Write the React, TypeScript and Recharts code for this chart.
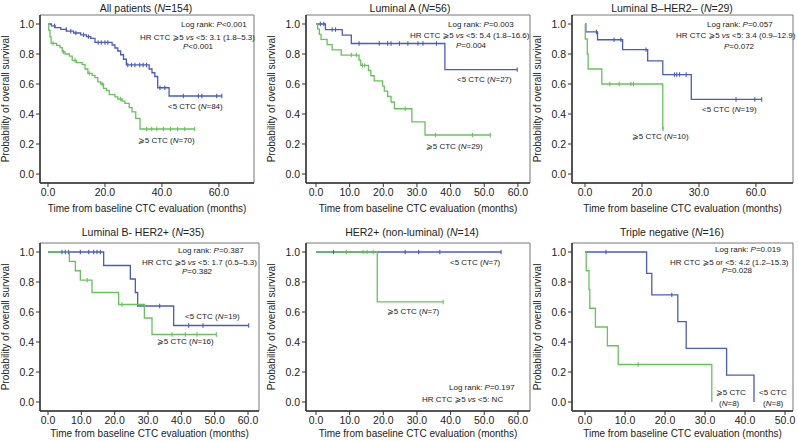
import React from 'react'
import { LineChart, Line, XAxis, YAxis, ReferenceArea } from 'recharts'

const W = 798
const H = 441
const BLUE = '#4a5bc0'
const GREEN = '#66c35a'
const FONT = '"Liberation Sans", Arial, Helvetica, "DejaVu Sans", sans-serif'

// Kaplan-Meier steps as [months, survival]; censor marks as months
const allLowSteps = [[0, 1], [1.2, 0.988], [2.5, 0.976], [4.5, 0.964], [6.5, 0.952], [9, 0.94], [11.5, 0.928], [13.5, 0.916], [15, 0.904], [16.5, 0.877], [22.5, 0.86], [23.5, 0.84], [24.5, 0.82], [25.5, 0.795], [26.5, 0.765], [27.5, 0.727], [35.5, 0.7], [36.5, 0.675], [37.5, 0.65], [38.5, 0.575], [42.5, 0.52]]
const allLowCens = [2.3, 6.4, 8, 9.8, 12.5, 14.2, 17.6, 18.7, 20, 21, 28, 29.3, 30.5, 32.2, 33.4, 34.6, 39.3, 41, 47.5, 52.8, 54, 59.2, 61]
const allHighSteps = [[0, 1], [0.3, 0.957], [0.7, 0.914], [1.1, 0.871], [3, 0.857], [4.2, 0.843], [5, 0.814], [6, 0.8], [7.5, 0.786], [8.5, 0.757], [10, 0.743], [12, 0.729], [13, 0.7], [14, 0.671], [15.5, 0.657], [16.5, 0.643], [17.5, 0.614], [18.5, 0.6], [19.5, 0.571], [20.5, 0.557], [21.5, 0.529], [23.5, 0.514], [24.5, 0.5], [26, 0.486], [27, 0.471], [28.5, 0.443], [29.5, 0.414], [30.8, 0.371], [32.3, 0.3]]
const allHighCens = [1.8, 5.5, 9.5, 14.5, 19, 25.5, 34.6, 36.4, 38.2, 40.5, 43, 45.5, 48, 51.5]

const lumALowSteps = [[0, 1], [2.8, 0.963], [7.8, 0.926], [10.5, 0.87], [38.3, 0.696]]
const lumALowCens = [1.3, 2.3, 4.8, 5.8, 12.8, 18.8, 21.3, 22.3, 24.8, 27.3, 30.3, 31.8, 35.8, 59.8]
const lumAHighSteps = [[0, 1], [0.5, 0.966], [1, 0.931], [1.5, 0.897], [3.3, 0.862], [4.8, 0.828], [7.5, 0.793], [12.8, 0.759], [13.3, 0.724], [15.6, 0.69], [16.3, 0.655], [17.3, 0.621], [19.8, 0.586], [20.3, 0.552], [21.3, 0.517], [22.3, 0.48], [23.3, 0.435], [28.5, 0.348], [32.4, 0.26]]
const lumAHighCens = [10.5, 12, 13.8, 14.5, 26.5, 35.5, 46.5, 51.8]

const lumBnegLowSteps = [[0, 1], [0.3, 0.947], [4.4, 0.895], [13.2, 0.829], [22, 0.754], [27.3, 0.663], [37.3, 0.497]]
const lumBnegLowCens = [4, 10.2, 12.6, 21.4, 31.4, 32.2, 33.2, 35.5, 53, 59.6, 62]
const lumBnegHighSteps = [[0, 1], [0.1, 0.9], [0.8, 0.8], [1.1, 0.7], [5.9, 0.6], [27.3, 0.3]]
const lumBnegHighCens = [8.7, 12, 16.1, 17, 27.4]

const lumBposLowSteps = [[0, 1], [16.7, 0.91], [24.7, 0.82], [26.2, 0.73], [26.9, 0.64], [37.7, 0.51]]
const lumBposLowCens = [4.2, 5.2, 6.2, 9.7, 12.2, 13.7, 14.7, 15.7, 33.5, 42.2, 46.5, 60.2]
const lumBposHighSteps = [[0, 1], [6.4, 0.9375], [8.2, 0.875], [9.7, 0.8125], [13.2, 0.73], [21.2, 0.65], [28.9, 0.56], [31.2, 0.45]]
const lumBposHighCens = [11.8, 22.2, 37.2, 41.2, 44.7, 50.5]

const her2LowSteps = [[0, 1]]
const her2LowCens = [5.2, 26.5, 30.5, 36.8, 55]
const her2HighSteps = [[0, 1], [18.2, 0.667]]
const her2HighCens = [9, 14, 15.2, 17, 37.8]

const tnLowSteps = [[0, 1], [15.4, 0.857], [16.7, 0.714], [23.2, 0.536], [25.3, 0.357], [35.4, 0.179], [42.25, 0]]
const tnLowCens = [5.25, 21.7]
const tnHighSteps = [[0, 1], [0.3, 0.875], [1, 0.75], [1.2, 0.625], [2.6, 0.5], [5.6, 0.375], [8.3, 0.25], [31.7, 0]]
const tnHighCens = [13.3]

const Y_TICKS = [0, 0.2, 0.4, 0.6, 0.8, 1.0]
const Y_DOMAIN: [number, number] = [-0.06, 1.06]
const TICKS_20 = [0, 20, 40, 60]
const TICKS_10 = [0, 10, 20, 30, 40, 50, 60]
const TICKS_TN = [0, 10, 20, 30, 40, 50]
// the Luminal B-HER2- panel is printed with "30.0" where 40 should be
const LUMBNEG_LABELS = ['0.0', '20.0', '30.0', '60.0']

const Y_TITLE = 'Probability of overall survival'
const X_TITLE = 'Time from baseline CTC evaluation (months)'

type Note = { x: number; y: number; text: string }
type Curve = { steps: number[][]; cens: number[]; color: string }
type Panel = {
  title: string
  titleX: number
  row: number
  box: [number, number, number, number] // left, right, top, bottom
  xDomain: [number, number]
  xTicks: number[]
  xLabels?: string[]
  curves: Curve[]
  notes: Note[]
}

const HR = 'HR CTC \u2A7E5 *vs* <5: '

const panels: Panel[] = [
  {
    title: 'All patients (*N*=154)', titleX: 146, row: 0,
    box: [40, 254, 15, 183], xDomain: [-2.8, 72.3], xTicks: TICKS_20,
    curves: [
      { steps: allLowSteps, cens: allLowCens, color: BLUE },
      { steps: allHighSteps, cens: allHighCens, color: GREEN },
    ],
    notes: [
      { x: 181, y: 24, text: 'Log rank: *P*<0.001' },
      { x: 140, y: 37, text: HR + '3.1 (1.8\u20135.3)' },
      { x: 183, y: 46, text: '*P*<0.001' },
      { x: 168, y: 106, text: '<5 CTC (*N*=84)' },
      { x: 138, y: 140, text: '\u2A7E5 CTC (*N*=70)' },
    ],
  },
  {
    title: 'Luminal A (*N*=56)', titleX: 410, row: 0,
    box: [306, 530, 15, 183], xDomain: [-2.97, 63.6], xTicks: TICKS_10,
    curves: [
      { steps: lumALowSteps, cens: lumALowCens, color: BLUE },
      { steps: lumAHighSteps, cens: lumAHighCens, color: GREEN },
    ],
    notes: [
      { x: 448, y: 24, text: 'Log rank: *P*=0.003' },
      { x: 410, y: 35, text: HR + '5.4 (1.8\u201316.6)' },
      { x: 456, y: 45, text: '*P*=0.004' },
      { x: 457, y: 79, text: '<5 CTC (*N*=27)' },
      { x: 426, y: 146, text: '\u2A7E5 CTC (*N*=29)' },
    ],
  },
  {
    title: 'Luminal B\u2013HER2\u2013 (*N*=29)', titleX: 672, row: 0,
    box: [572, 793, 15, 183], xDomain: [-4.56, 73], xTicks: TICKS_20, xLabels: LUMBNEG_LABELS,
    curves: [
      { steps: lumBnegLowSteps, cens: lumBnegLowCens, color: BLUE },
      { steps: lumBnegHighSteps, cens: lumBnegHighCens, color: GREEN },
    ],
    notes: [
      { x: 707, y: 24, text: 'Log rank: *P*=0.057' },
      { x: 676, y: 35, text: HR + '3.4 (0.9\u201312.9)' },
      { x: 724, y: 46, text: '*P*=0.072' },
      { x: 702, y: 109, text: '<5 CTC (*N*=19)' },
      { x: 632, y: 136, text: '\u2A7E5 CTC (*N*=10)' },
    ],
  },
  {
    title: 'Luminal B- HER2+ (*N*=35)', titleX: 143, row: 1,
    box: [40, 259, 243, 411], xDomain: [-2.4, 63.3], xTicks: TICKS_10,
    curves: [
      { steps: lumBposLowSteps, cens: lumBposLowCens, color: BLUE },
      { steps: lumBposHighSteps, cens: lumBposHighCens, color: GREEN },
    ],
    notes: [
      { x: 178, y: 250, text: 'Log rank: *P*=0.387' },
      { x: 142, y: 262, text: HR + '1.7 (0.5\u20135.3)' },
      { x: 182, y: 271, text: '*P*=0.382' },
      { x: 185, y: 316, text: '<5 CTC (*N*=19)' },
      { x: 157, y: 341, text: '\u2A7E5 CTC (*N*=16)' },
    ],
  },
  {
    title: 'HER2+ (non-luminal) (*N*=14)', titleX: 412, row: 1,
    box: [306, 530, 243, 411], xDomain: [-2.97, 63.6], xTicks: TICKS_10,
    curves: [
      { steps: her2LowSteps, cens: her2LowCens, color: BLUE },
      { steps: her2HighSteps, cens: her2HighCens, color: GREEN },
    ],
    notes: [
      { x: 450, y: 262, text: '<5 CTC (*N*=7)' },
      { x: 387, y: 311, text: '\u2A7E5 CTC (*N*=7)' },
      { x: 449, y: 387, text: 'Log rank: *P*=0.197' },
      { x: 422, y: 399, text: HR + 'NC' },
    ],
  },
  {
    title: 'Triple negative (*N*=16)', titleX: 672, row: 1,
    box: [572, 793, 243, 411], xDomain: [-3.25, 52], xTicks: TICKS_TN,
    curves: [
      { steps: tnLowSteps, cens: tnLowCens, color: BLUE },
      { steps: tnHighSteps, cens: tnHighCens, color: GREEN },
    ],
    notes: [
      { x: 715, y: 249, text: 'Log rank: *P*=0.019' },
      { x: 670, y: 262, text: 'HR CTC \u2A7E5 or <5: 4.2 (1.2\u201315.3)' },
      { x: 722, y: 270, text: '*P*=0.028' },
      { x: 716, y: 392, text: '\u2A7E5 CTC' },
      { x: 719, y: 403, text: '(*N*=8)' },
      { x: 759, y: 392, text: '<5 CTC' },
      { x: 763, y: 403, text: '(*N*=8)' },
    ],
  },
]

type Pt = { t: number; s: number; c: boolean }

function toPoints(steps: number[][], cens: number[]): Pt[] {
  const pts: Pt[] = steps.map(([t, s]) => ({ t, s, c: false }))
  for (const t of cens) {
    let s = steps[0][1]
    for (const [st, sv] of steps) if (st <= t) s = sv
    pts.push({ t, s, c: true })
  }
  return pts.sort((a, b) => a.t - b.t || (a.c ? 1 : 0) - (b.c ? 1 : 0))
}

function censorDot(color: string) {
  return (props: any) => {
    const { cx, cy, payload, index } = props
    if (!payload || !payload.c || cx == null) return <g key={`n${index}`} />
    return <line key={`c${index}`} x1={cx} x2={cx} y1={cy - 2.2} y2={cy + 2.2} stroke={color} strokeWidth={1.1} />
  }
}

function Rich({ text }: { text: string }) {
  return (
    <>
      {text.split('*').map((part, i) => (
        <tspan key={i} fontStyle={i % 2 ? 'italic' : 'normal'}>{part}</tspan>
      ))}
    </>
  )
}

const Y_AXIS_W = 30
const X_AXIS_H = 30
const tickStyle = { fontSize: 10.5, fill: '#222', fontFamily: FONT }

function KMChart({ p }: { p: Panel }) {
  const [L, R, T, B] = p.box
  const fmt = (v: number) => {
    if (p.xLabels) return p.xLabels[p.xTicks.indexOf(v)] ?? ''
    return v.toFixed(1)
  }
  return (
    <div style={{ position: 'absolute', left: 0, top: 0 }}>
      <LineChart
        width={W}
        height={H}
        margin={{ left: L - Y_AXIS_W, right: W - R, top: T, bottom: H - B - X_AXIS_H }}
      >
        <ReferenceArea
          x1={p.xDomain[0]} x2={p.xDomain[1]} y1={Y_DOMAIN[0]} y2={Y_DOMAIN[1]}
          fill="none" fillOpacity={0} stroke="#777" strokeWidth={1} ifOverflow="visible"
        />
        <XAxis
          type="number" dataKey="t" domain={p.xDomain} ticks={p.xTicks} interval={0}
          allowDataOverflow tickFormatter={fmt} tickSize={4} tickMargin={2}
          height={X_AXIS_H} tick={tickStyle}
          axisLine={{ stroke: '#333', strokeWidth: 1.5 }} tickLine={{ stroke: '#333' }}
        />
        <YAxis
          type="number" domain={Y_DOMAIN} ticks={Y_TICKS} interval={0} allowDataOverflow
          tickFormatter={(v: number) => v.toFixed(1)} tickSize={4} tickMargin={2}
          width={Y_AXIS_W} tick={tickStyle}
          axisLine={{ stroke: '#333', strokeWidth: 1.5 }} tickLine={{ stroke: '#333' }}
        />
        {p.curves.map((c, i) => (
          <Line
            key={i}
            data={toPoints(c.steps, c.cens)}
            dataKey="s"
            type="stepAfter"
            stroke={c.color}
            strokeWidth={1.3}
            dot={censorDot(c.color)}
            activeDot={false}
            isAnimationActive={false}
          />
        ))}
      </LineChart>
    </div>
  )
}

const ROW_TITLE_Y = [12, 236]
const ROW_XTITLE_Y = [212, 437]

function Texts() {
  return (
    <svg width={W} height={H} style={{ position: 'absolute', left: 0, top: 0, pointerEvents: 'none' }}
      fontFamily={FONT} fill="#222">
      {panels.map((p, i) => {
        const [L, R, T, B] = p.box
        return (
          <g key={i}>
            <text x={p.titleX} y={ROW_TITLE_Y[p.row]} textAnchor="middle" fontSize={10.5}>
              <Rich text={p.title} />
            </text>
            <text x={(L + R) / 2} y={ROW_XTITLE_Y[p.row]} textAnchor="middle" fontSize={10}>
              {X_TITLE}
            </text>
            <text transform={`translate(${L - 31},${(T + B) / 2}) rotate(-90)`} textAnchor="middle" fontSize={10}>
              {Y_TITLE}
            </text>
            {p.notes.map((n, j) => (
              <text key={j} x={n.x} y={n.y + 3} fontSize={8}>
                <Rich text={n.text} />
              </text>
            ))}
          </g>
        )
      })}
    </svg>
  )
}

export default function App() {
  return (
    <div style={{ position: 'absolute', left: 0, top: 0, width: W, height: H, background: '#fff', overflow: 'hidden' }}>
      {panels.map((p, i) => (
        <KMChart key={i} p={p} />
      ))}
      <Texts />
    </div>
  )
}
